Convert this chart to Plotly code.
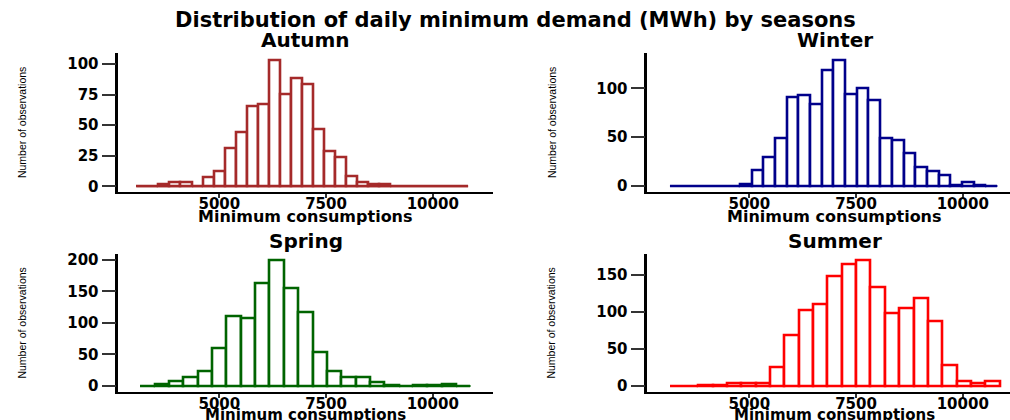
import plotly.graph_objects as go

# ---------------- data ----------------
seasons = ["Autumn", "Winter", "Spring", "Summer"]
colors = {"Autumn": "#A52A2A", "Winter": "#00008B", "Spring": "#006400", "Summer": "#FF0000"}

autumn_start = 3060
autumn_width = 259
autumn_counts = [0, 0, 2, 3, 3, 0, 7, 12, 31, 44, 65, 67, 103, 75, 88, 83, 47, 29,
                 24, 8, 3, 2, 2, 0, 0, 0, 0, 0, 0, 0]

winter_start = 3140
winter_width = 274
winter_counts = [0, 0, 0, 0, 0, 0, 2, 16, 29, 49, 91, 93, 84, 118, 129, 94, 100, 88,
                 49, 47, 33, 19, 15, 11, 1, 4, 1, 0]

spring_start = 3158
spring_width = 336
spring_counts = [0, 3, 7, 14, 23, 60, 110, 107, 163, 199, 154, 117, 53, 24, 14, 14,
                 6, 1, 0, 1, 1, 2, 0]

summer_start = 3141
summer_width = 336
summer_counts = [0, 0, 1, 1, 4, 4, 4, 25, 69, 102, 110, 148, 164, 170, 133, 98, 105,
                 118, 88, 28, 7, 4, 6]

x_tickvals = [5000, 7500, 10000]
y_tickvals = {
    "Autumn": [0, 25, 50, 75, 100],
    "Winter": [0, 50, 100],
    "Spring": [0, 50, 100, 150, 200],
    "Summer": [0, 50, 100, 150],
}

main_title = "Distribution of daily minimum demand (MWh) by seasons"
x_title = "Minimum consumptions"
y_title = "Number of observations"

hist = {
    "Autumn": (autumn_start, autumn_width, autumn_counts),
    "Winter": (winter_start, winter_width, winter_counts),
    "Spring": (spring_start, spring_width, spring_counts),
    "Summer": (summer_start, summer_width, summer_counts),
}

# ---------------- layout geometry ----------------
W, H = 1010, 420
axis_ids = {"Autumn": ("x", "y"), "Winter": ("x2", "y2"), "Spring": ("x3", "y3"), "Summer": ("x4", "y4")}
# plot-area pixel boxes: left, right, top, bottom
boxes = {
    "Autumn": (118.3, 492.7, 53.3, 192.3),
    "Winter": (647.3, 1010.0, 53.3, 192.3),
    "Spring": (118.3, 492.7, 254.3, 392.3),
    "Summer": (647.3, 1010.0, 254.3, 392.3),
}
x_ranges = {"Autumn": [2633, 11405], "Winter": [2609, 11107],
            "Spring": [2633, 11405], "Summer": [2609, 11107]}
y_ranges = {"Autumn": [-4.9, 108.7], "Winter": [-6.4, 135.8],
            "Spring": [-10, 208.5], "Summer": [-8.5, 178]}
xtitle_offset = {"Autumn": 24, "Winter": 24, "Spring": 22.5, "Summer": 22.5}
xtitle_size = {"Autumn": 16, "Winter": 16, "Spring": 15, "Summer": 15}

FONT = "DejaVu Sans"

fig = go.Figure()
for s in seasons:
    start, width, counts = hist[s]
    xa, ya = axis_ids[s]
    centers = [start + width * (i + 0.5) for i in range(len(counts))]
    end = start + width * len(counts)
    # zero-height bins drawn as a baseline (as in the original histogram)
    fig.add_trace(go.Scatter(x=[start, end], y=[0, 0], mode="lines",
                             line=dict(color=colors[s], width=2),
                             xaxis=xa, yaxis=ya, showlegend=False, hoverinfo="skip"))
    fig.add_trace(go.Bar(x=centers, y=counts, width=[width] * len(counts),
                         marker=dict(color="white", line=dict(color=colors[s], width=2.6)),
                         xaxis=xa, yaxis=ya, showlegend=False))

layout = dict(
    width=W, height=H,
    margin=dict(l=0, r=0, t=0, b=0, autoexpand=False),
    paper_bgcolor="white", plot_bgcolor="white",
    bargap=0, barmode="overlay",
    annotations=[],
)

tickfont = dict(family=FONT, size=15, color="black", weight="bold")

for s in seasons:
    xa, ya = axis_ids[s]
    l, r, t, b = boxes[s]
    xkey = "xaxis" if xa == "x" else "xaxis" + xa[1:]
    ykey = "yaxis" if ya == "y" else "yaxis" + ya[1:]
    layout[xkey] = dict(
        domain=[l / W, r / W], range=x_ranges[s], anchor=ya, automargin=False,
        showgrid=False, zeroline=False, showline=True, linecolor="black", linewidth=2,
        ticks="outside", ticklen=4, tickwidth=2, tickcolor="#333333",
        ticklabelstandoff=-7,
        tickvals=x_tickvals, ticktext=[str(v) for v in x_tickvals], tickfont=tickfont,
    )
    layout[ykey] = dict(
        domain=[1 - b / H, 1 - t / H], range=y_ranges[s], anchor=xa, automargin=False,
        showgrid=False, zeroline=False, showline=True, linecolor="black", linewidth=2.5,
        ticks="outside", ticklen=14, tickwidth=2, tickcolor="#333333",
        tickvals=y_tickvals[s], ticktext=[str(v) for v in y_tickvals[s]], tickfont=tickfont,
    )
    cx = (l + (492.7 - 118.3) / 2) / W
    # panel title
    layout["annotations"].append(dict(
        text=s, xref="paper", yref="paper", x=cx, y=1 - (t - 13) / H,
        xanchor="center", yanchor="middle", showarrow=False,
        font=dict(family=FONT, size=20, color="black", weight="bold")))
    # x title
    layout["annotations"].append(dict(
        text=x_title, xref="paper", yref="paper", x=cx, y=1 - (b + xtitle_offset[s]) / H,
        xanchor="center", yanchor="middle", showarrow=False,
        font=dict(family=FONT, size=xtitle_size[s], color="black", weight="bold")))
    # y title
    layout["annotations"].append(dict(
        text=y_title, xref="paper", yref="paper", x=(l - 96) / W, y=1 - ((t + b) / 2 - 0) / H,
        xanchor="center", yanchor="middle", showarrow=False, textangle=-90,
        font=dict(family="Liberation Sans", size=10.5, color="black")))

layout["annotations"].append(dict(
    text=main_title, xref="paper", yref="paper", x=515 / W, y=1 - 20 / H,
    xanchor="center", yanchor="middle", showarrow=False,
    font=dict(family=FONT, size=21, color="black", weight="bold")))

fig.update_layout(**layout)
fig.write_html("out.html", config={"displayModeBar": False},
               post_script="document.body.style.margin='0px';")
